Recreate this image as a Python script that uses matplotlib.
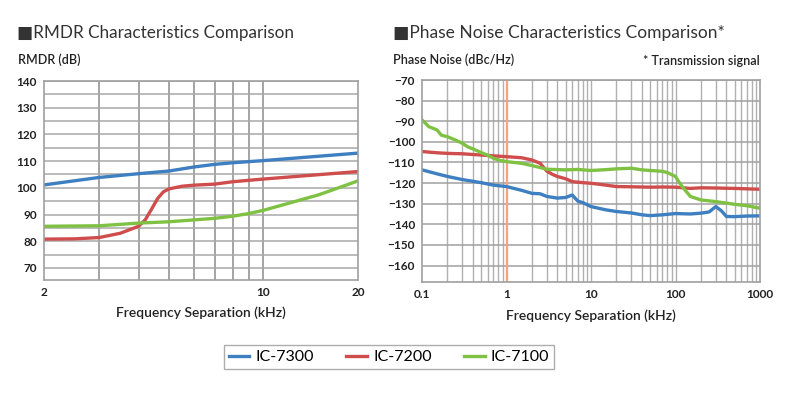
import numpy as np
import matplotlib.pyplot as plt
from matplotlib.ticker import FixedLocator, NullFormatter, FixedFormatter

plt.rcParams['font.family'] = ['Lato', 'DejaVu Sans']

# RMDR data (kHz, dB)
rmdr_freq = [2, 3, 4, 5, 6, 7, 8, 10, 20]
rmdr_7300 = [101.1, 103.9, 105.3, 106.3, 107.8, 108.8, 109.4, 110.2, 113.0]

rmdr_7200_freq = [2, 2.5, 3, 3.5, 4, 4.2, 4.4, 4.6, 4.8, 5, 5.5, 6, 7, 8, 10, 20]
rmdr_7200 = [80.8, 80.9, 81.4, 83.0, 85.6, 88.0, 92.0, 96.0, 98.5, 99.6, 100.6, 101.0, 101.4,
             102.3, 103.3, 106.1]

rmdr_7100_freq = [2, 3, 4, 5, 6, 7, 8, 9, 10, 12, 15, 20]
rmdr_7100 = [85.6, 85.8, 86.8, 87.3, 88.0, 88.6, 89.4, 90.4, 91.6, 94.2, 97.4, 102.6]

# Phase noise data (kHz, dBc/Hz)
pn_7300_freq = [0.1, 0.15, 0.2, 0.3, 0.5, 0.7, 1, 1.5, 2, 2.5, 3, 4, 5, 6, 7, 8, 10, 15, 20, 30, 40,
                50, 70, 100, 150, 200, 250, 300, 350, 400, 500, 700, 1000]
pn_7300 = [-113.6, -115.5, -116.8, -118.3, -119.8, -121.0, -121.7, -123.5, -125.0, -125.2, -126.5,
           -127.3, -127.0, -125.8, -128.8, -129.5, -131.4, -133.0, -133.8, -134.5, -135.4,
           -135.8, -135.4, -134.8, -135.0, -134.6, -134.0, -131.4, -133.5, -136.2, -136.3, -136.0, -135.9]

pn_7200_freq = [0.1, 0.15, 0.2, 0.3, 0.5, 0.7, 1, 1.5, 2, 2.5, 3, 3.5, 4, 5, 6, 8, 10, 15, 20, 30,
                50, 70, 100, 150, 200, 300, 500, 700, 1000]
pn_7200 = [-104.7, -105.3, -105.6, -105.8, -106.4, -106.8, -107.2, -107.7, -108.8, -110.4, -114.2,
           -115.8, -116.8, -117.9, -119.3, -119.8, -120.1, -121.0, -121.7, -121.8, -122.0, -121.9,
           -122.0, -122.6, -122.3, -122.4, -122.6, -122.8, -123.0]

pn_7100_freq = [0.1, 0.11, 0.12, 0.15, 0.17, 0.2, 0.25, 0.3, 0.35, 0.4, 0.5, 0.6, 0.7, 0.8, 1, 1.5,
                2, 3, 5, 7, 10, 15, 20, 30, 40, 50, 70, 80, 100, 110, 120, 150, 200, 300, 500, 700, 1000]
pn_7100 = [-89.4, -91.0, -92.6, -94.2, -96.8, -97.5, -99.2, -100.7, -102.5, -103.4, -105.2, -106.5,
           -108.0, -108.8, -109.6, -110.4, -111.5, -113.3, -113.6, -113.4, -113.9, -113.5, -113.1,
           -112.8, -113.6, -113.9, -114.3, -114.9, -116.8, -119.5, -121.7, -126.5, -128.2, -129.0,
           -130.3, -131.0, -132.2]

models = ['IC-7300', 'IC-7200', 'IC-7100']
colors = ['#3d7fc0', '#cf4d4c', '#7fc243']

W, H = 794, 396
fig = plt.figure(figsize=(W / 100, H / 100), dpi=100)

def px_axes(x0, y0, x1, y1):
    return fig.add_axes([x0 / W, 1 - y1 / H, (x1 - x0) / W, (y1 - y0) / H])

txt_col = '#222222'

# ---- left: RMDR ----
ax1 = px_axes(44, 81, 358, 280)
ax1.set_xscale('log')
ax1.set_xlim(2, 20)
ax1.set_ylim(65.5, 140)
ax1.plot(rmdr_freq, rmdr_7300, color=colors[0], lw=2.4)
ax1.plot(rmdr_7200_freq, rmdr_7200, color=colors[1], lw=2.4)
ax1.plot(rmdr_7100_freq, rmdr_7100, color=colors[2], lw=2.4)
ax1.xaxis.set_major_locator(FixedLocator([2, 10, 20]))
ax1.xaxis.set_major_formatter(FixedFormatter(['2', '10', '20']))
ax1.xaxis.set_minor_locator(FixedLocator([3, 4, 5, 6, 7, 8, 9]))
ax1.xaxis.set_minor_formatter(NullFormatter())
ax1.set_yticks(np.arange(70, 141, 10))
for x in [3, 4, 5, 6, 7, 8, 9, 10]:
    ax1.axvline(x, color='#8c8c8c', lw=1.1, zorder=0)
for y in np.arange(70, 141, 5):
    ax1.axhline(y, color='#a8a8a8', lw=1.1, zorder=0)
ax1.set_xlabel('Frequency Separation (kHz)', fontsize=10, color=txt_col, labelpad=6,
               fontweight='semibold')

# ---- right: phase noise ----
ax2 = px_axes(422, 80, 760, 282)
ax2.set_xscale('log')
ax2.set_xlim(0.1, 1000)
ax2.set_ylim(-168, -70)
minor_x = [m * 10.0 ** d for d in range(-1, 3) for m in range(2, 10)]
for x in minor_x + [10, 100]:
    ax2.axvline(x, color='#b0b0b0', lw=1.0, zorder=0)
for y in np.arange(-160, -69, 10):
    ax2.axhline(y, color='#a0a0a0', lw=1.1, zorder=0)
ax2.axvline(1, color='#f5a37c', lw=1.6, zorder=1)
ax2.plot(pn_7300_freq, pn_7300, color=colors[0], lw=2.4)
ax2.plot(pn_7200_freq, pn_7200, color=colors[1], lw=2.4)
ax2.plot(pn_7100_freq, pn_7100, color=colors[2], lw=2.4)
ax2.xaxis.set_major_locator(FixedLocator([0.1, 1, 10, 100, 1000]))
ax2.xaxis.set_major_formatter(FixedFormatter(['0.1', '1', '10', '100', '1000']))
ax2.xaxis.set_minor_locator(FixedLocator(minor_x))
ax2.xaxis.set_minor_formatter(NullFormatter())
ax2.set_yticks(np.arange(-160, -69, 10))
ax2.set_xlabel('Frequency Separation (kHz)', fontsize=10, color=txt_col, labelpad=7,
               fontweight='semibold')

for ax in (ax1, ax2):
    for s in ax.spines.values():
        s.set_color('#a0a0a0')
        s.set_linewidth(1.2)
    ax.tick_params(which='both', length=0, labelsize=8.5, colors=txt_col, pad=5)
    for lab in ax.get_xticklabels() + ax.get_yticklabels():
        lab.set_fontweight('bold')

# titles and axis captions
fig.text(17 / W, 1 - 33 / H, '\u25a0RMDR Characteristics Comparison', fontsize=12.3,
         color='#333333', va='center', ha='left')
fig.text(18 / W, 1 - 60 / H, 'RMDR (dB)', fontsize=9, color=txt_col, va='center',
         ha='left', fontweight='semibold')
fig.text(393 / W, 1 - 33 / H, '\u25a0Phase Noise Characteristics Comparison*', fontsize=12.5,
         color='#333333', va='center', ha='left')
fig.text(393 / W, 1 - 60 / H, 'Phase Noise (dBc/Hz)', fontsize=9, color=txt_col,
         va='center', ha='left', fontweight='semibold')
fig.text(760 / W, 1 - 61 / H, '* Transmission signal', fontsize=9, color=txt_col,
         va='center', ha='right', fontweight='semibold')

handles = [plt.Line2D([], [], color=c, lw=2.4) for c in colors]
leg = fig.legend(handles, models, loc='center', bbox_to_anchor=(389 / W, 1 - 357 / H),
                 ncol=3, frameon=True, fancybox=False, fontsize=11.5, handlelength=1.3,
                 columnspacing=2.0, handletextpad=0.4, borderpad=0.3)
leg.get_frame().set_edgecolor('#999999')
leg.get_frame().set_linewidth(1.0)

fig.savefig('out.png', dpi=100)
